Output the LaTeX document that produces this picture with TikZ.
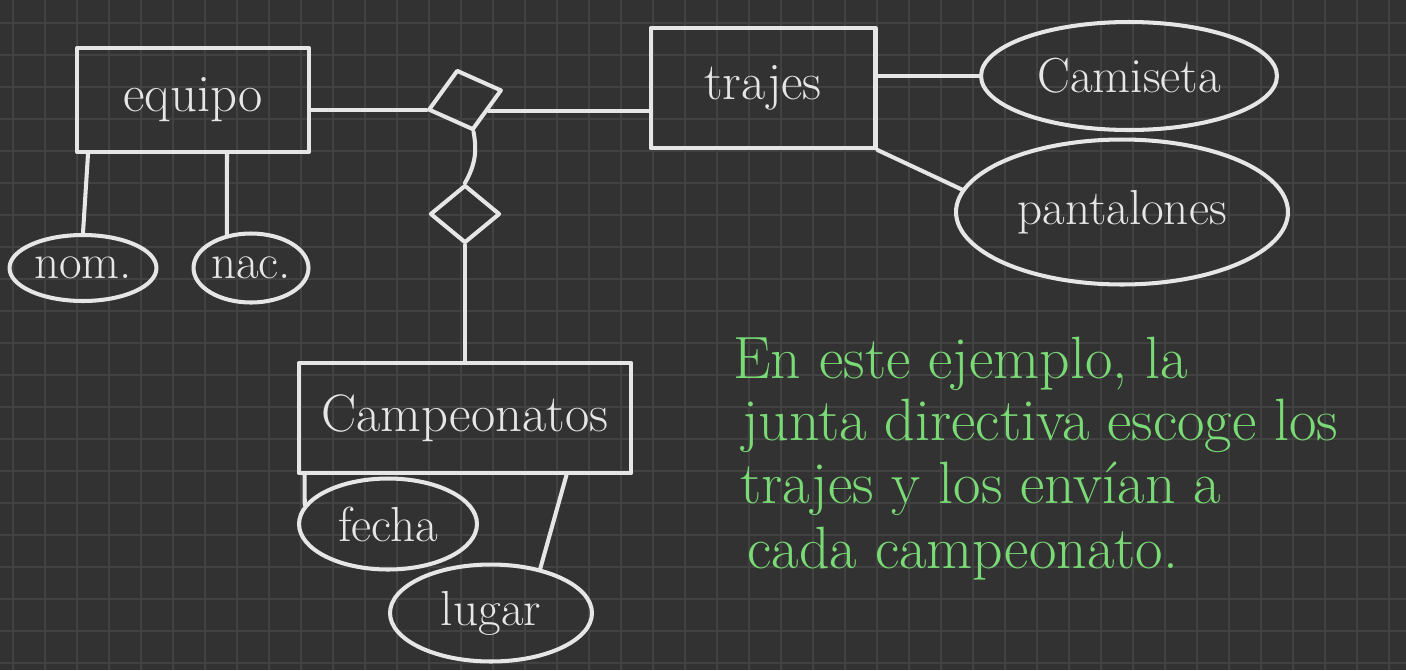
\documentclass[tikz,border=0pt]{standalone}
\usepackage{fontspec}
\usepackage{tikz}
\usetikzlibrary{shapes.geometric}
\usetikzlibrary{calc}
\definecolor{board}{HTML}{323232}
\definecolor{gridgray}{HTML}{424242}
\definecolor{chalk}{HTML}{E6E6E6}
\definecolor{marker}{HTML}{7ADB76}
\tikzset{
  ink/.style={draw=chalk, line width=2.3pt, line cap=round, line join=round},
  entity/.style={ink, rectangle, text=chalk, inner sep=0pt, font=\fontsize{30}{34}\selectfont},
  attrib/.style={ink, ellipse, text=chalk, inner sep=0pt, font=\fontsize{28}{32}\selectfont},
  rel/.style={ink, diamond, inner sep=0pt},
  note/.style={anchor=base west, text=marker, inner sep=0pt, font=\fontsize{34}{38}\selectfont},
  gridline/.style={draw=gridgray, line width=0.6pt},
}

\begin{document}
\begin{tikzpicture}[x=0.02cm, y=-0.02cm]
    \useasboundingbox (0,0) rectangle (1406,670);
    \fill[board] (0,0) rectangle (1406,670);
    \foreach \gx in {13,45,...,1406} \draw[gridline] (\gx,0) -- (\gx,670);
    \foreach \gy in {23,55,...,670} \draw[gridline] (0,\gy) -- (1406,\gy);

    % entities
    \node[entity, minimum width=4.64cm, minimum height=2.08cm] at (193,100) (equipo) {equipo};
    \node[entity, minimum width=4.5cm, minimum height=2.4cm] at (763,88) (trajes) {trajes};
    \node[entity, minimum width=6.66cm, minimum height=2.2cm] at (465,418) (camp) {Campeonatos};

    % relationships
    \node[rel, rotate=15, minimum width=1.52cm, minimum height=1.24cm] at (465,100) (usa) {};
    \node[rel, minimum width=1.4cm, minimum height=1.16cm] at (465,214) (envia) {};

    % attributes
    \node[attrib, minimum width=2.94cm, minimum height=1.32cm] at (83,268) (nom) {nom.};
    \node[attrib, minimum width=2.3cm, minimum height=1.38cm] at (251,268) (nac) {nac.};
    \node[attrib, minimum width=5.92cm, minimum height=2.16cm] at (1129,76) (camiseta) {Camiseta};
    \node[attrib, minimum width=6.64cm, minimum height=2.9cm] at (1122,212) (pantalones) {pantalones};
    \node[attrib, minimum width=3.56cm, minimum height=1.82cm] at (388,524) (fecha) {fecha};
    \node[attrib, minimum width=4.04cm, minimum height=1.94cm] at (491,613) (lugar) {lugar};

    % connectors
    \draw[ink] (equipo.east |- usa.west) -- (usa.west);
    \draw[ink] (usa.south east) -- (usa.south east -| trajes.west);
    \draw[ink] (usa.south) to[bend left=20] (envia.north);
    \draw[ink] (envia.south) -- (envia.south |- camp.north);
    \draw[ink] ($(equipo.south west)+(13,0)$) -- (nom.north);
    \draw[ink] ($(equipo.south)+(34,0)$) -- (nac.126);
    \draw[ink] (trajes.east |- camiseta.west) -- (camiseta.west);
    \draw[ink] (trajes.south east) -- (pantalones.172);
    \draw[ink] ($(camp.south west)+(8,0)$) -- (fecha.167);
    \draw[ink] ($(camp.south east)+(-67,0)$) -- (lugar.42);

    % note
    \node[note] at (733,378) (linea1) {En este ejemplo, la};
    \node[note] at (742,440) (linea2) {junta directiva escoge los};
    \node[note] at (740,503) (linea3) {trajes y los envían a};
    \node[note] at (747,568) (linea4) {cada campeonato.};
\end{tikzpicture}
\end{document}
